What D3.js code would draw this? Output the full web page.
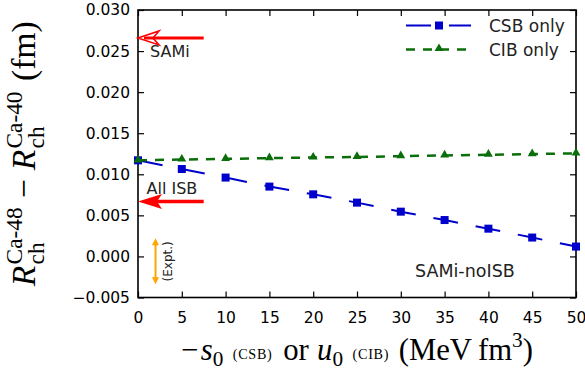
<!DOCTYPE html>
<html><head><meta charset="utf-8">
<script src="https://cdn.jsdelivr.net/npm/d3@7"></script>
<style>body{margin:0;background:#fff}svg{display:block}</style>
</head><body><svg id="c" width="585" height="375"></svg>
<script>
const xVals = [0, 5, 10, 15, 20, 25, 30, 35, 40, 45, 50];
const csbVals = [0.01170, 0.01064, 0.00960, 0.00850, 0.00756, 0.00655, 0.00545, 0.00443, 0.00338, 0.00230, 0.00120];
const cibVals = [0.01170, 0.01180, 0.01188, 0.01196, 0.01204, 0.01211, 0.01220, 0.01230, 0.01238, 0.01246, 0.01255];
const xTicks = [0, 5, 10, 15, 20, 25, 30, 35, 40, 45, 50];
const yTicks = [-0.005, 0.000, 0.005, 0.010, 0.015, 0.020, 0.025, 0.030];
const seriesNames = ["CSB only", "CIB only"];
const samiArrow = {y: 0.0266, x0: 0, x1: 7.5, label: "SAMi"};
const allIsbArrow = {y: 0.0067, x0: 0, x1: 7.5, label: "All ISB"};
const expt = {x: 2, lo: -0.0034, hi: 0.0022, label: "(Expt.)"};
const modelLabel = "SAMi-noISB";

const svg = d3.select("#c");
const L = 138, R = 576, T = 10, B = 297.5;
const x = d3.scaleLinear().domain([0, 50]).range([L, R]);
const y = d3.scaleLinear().domain([-0.005, 0.030]).range([B, T]);
const blue = "#0000cc", green = "#0a6e0a", red = "#ff0000", orange = "#ffa500";
const sans = "'DejaVu Sans', sans-serif", serif = "'Liberation Serif', serif";

// axes
const fmtY = d3.format(".3f");
const gL = svg.append("g").attr("transform", `translate(${L},0)`)
  .call(d3.axisLeft(y).tickValues(yTicks).tickFormat(fmtY).tickSizeInner(-6).tickSizeOuter(0).tickPadding(8));
const gB = svg.append("g").attr("transform", `translate(0,${B})`)
  .call(d3.axisBottom(x).tickValues(xTicks).tickFormat(d3.format("d")).tickSizeInner(-6).tickSizeOuter(0).tickPadding(14));
const gR = svg.append("g").attr("transform", `translate(${R},0)`)
  .call(d3.axisRight(y).tickValues(yTicks).tickFormat("").tickSizeInner(-6).tickSizeOuter(0));
const gT = svg.append("g").attr("transform", `translate(0,${T})`)
  .call(d3.axisTop(x).tickValues(xTicks).tickFormat("").tickSizeInner(-6).tickSizeOuter(0));
[gL, gB, gR, gT].forEach(g => {
  g.select(".domain").remove();
  g.selectAll(".tick line").attr("stroke", "#000").attr("stroke-width", 1.2);
  g.selectAll("text").attr("font-family", sans).attr("font-size", 15.5).attr("fill", "#000");
});
svg.append("rect").attr("x", L).attr("y", T).attr("width", R - L).attr("height", B - T)
  .attr("fill", "none").attr("stroke", "#000").attr("stroke-width", 1.6);

// clip
svg.append("clipPath").attr("id", "clip").append("rect")
  .attr("x", L - 6).attr("y", T - 6).attr("width", R - L + 12).attr("height", B - T + 12);
const plot = svg.append("g");

const line = d3.line().x((d, i) => x(xVals[i])).y(d => y(d));
// CSB
plot.append("path").datum(csbVals).attr("d", line).attr("fill", "none")
  .attr("stroke", blue).attr("stroke-width", 2).attr("stroke-dasharray", "25,18");
plot.selectAll(".sq").data(csbVals).enter().append("rect")
  .attr("x", (d, i) => x(xVals[i]) - 4).attr("y", d => y(d) - 4)
  .attr("width", 8).attr("height", 8).attr("fill", blue);
// CIB
plot.append("path").datum(cibVals).attr("d", line).attr("fill", "none")
  .attr("stroke", green).attr("stroke-width", 2.5).attr("stroke-dasharray", "9,8");
const tri = d3.symbol().type(d3.symbolTriangle).size(34);
plot.selectAll(".tr").data(cibVals).enter().append("path")
  .attr("d", tri).attr("transform", (d, i) => `translate(${x(xVals[i])},${y(d) - 0.5})`).attr("fill", green);

// legend
const lg = svg.append("g");
lg.append("line").attr("x1", 406).attr("x2", 471).attr("y1", 25.5).attr("y2", 25.5)
  .attr("stroke", blue).attr("stroke-width", 2).attr("stroke-dasharray", "25,18");
lg.append("rect").attr("x", 435).attr("y", 21.5).attr("width", 8).attr("height", 8).attr("fill", blue);
lg.append("line").attr("x1", 406).attr("x2", 471).attr("y1", 49.5).attr("y2", 49.5)
  .attr("stroke", green).attr("stroke-width", 2.5).attr("stroke-dasharray", "9,8");
lg.append("path").attr("d", tri).attr("transform", "translate(439,48.5)").attr("fill", green);
lg.selectAll("text").data(seriesNames).enter().append("text")
  .attr("x", 489).attr("y", (d, i) => 31.5 + i * 24).text(d => d)
  .attr("font-family", sans).attr("font-size", 17).attr("fill", "#222");

// red arrows
function redArrow(a, open) {
  const tx = x(a.x0), ty = y(a.y), ex = x(a.x1);
  if (open) {
    svg.append("line").attr("x1", tx + 6).attr("x2", ex).attr("y1", ty).attr("y2", ty)
      .attr("stroke", red).attr("stroke-width", 3);
    svg.append("path").attr("d", `M${tx},${ty} L${tx + 21},${ty - 7} L${tx + 15},${ty} L${tx + 21},${ty + 7} Z`)
      .attr("fill", "#fff").attr("fill-opacity", 0).attr("stroke", red).attr("stroke-width", 1.6).attr("stroke-linejoin", "miter");
  } else {
    svg.append("line").attr("x1", tx + 10).attr("x2", ex).attr("y1", ty).attr("y2", ty)
      .attr("stroke", red).attr("stroke-width", 3.5);
    svg.append("path").attr("d", `M${tx},${ty} L${tx + 24},${ty - 7.5} L${tx + 19},${ty} L${tx + 24},${ty + 7.5} Z`)
      .attr("fill", red);
  }
}
redArrow(samiArrow, true);
redArrow(allIsbArrow, false);
svg.append("text").attr("x", 150).attr("y", 57).text(samiArrow.label)
  .attr("font-family", sans).attr("font-size", 16).attr("fill", "#222");
svg.append("text").attr("x", 146.5).attr("y", 194).text(allIsbArrow.label)
  .attr("font-family", sans).attr("font-size", 16).attr("fill", "#222");
svg.append("text").attr("x", 415).attr("y", 277).text(modelLabel)
  .attr("font-family", sans).attr("font-size", 17.5).attr("fill", "#222");

// expt double arrow
const ex = x(expt.x), eTop = y(expt.hi), eBot = y(expt.lo);
svg.append("line").attr("x1", ex).attr("x2", ex).attr("y1", eTop + 4).attr("y2", eBot - 4)
  .attr("stroke", orange).attr("stroke-width", 2);
svg.append("path").attr("d", `M${ex},${eTop} L${ex - 3.5},${eTop + 7} L${ex + 3.5},${eTop + 7} Z`).attr("fill", orange);
svg.append("path").attr("d", `M${ex},${eBot} L${ex - 3.5},${eBot - 7} L${ex + 3.5},${eBot - 7} Z`).attr("fill", orange);
svg.append("text").attr("transform", `translate(${ex + 16},${(eTop + eBot) / 2}) rotate(-90)`)
  .attr("text-anchor", "middle").text(expt.label)
  .attr("font-family", sans).attr("font-size", 12).attr("fill", "#222");

// math text helper
function mathText(g, pieces) {
  let cx = 0;
  pieces.forEach(p => {
    if (p.gap) { cx += p.gap; return; }
    const items = p.stack ? p.stack : [p];
    let w = 0;
    items.forEach(q => {
      const t = g.append("text").attr("x", cx).attr("y", q.dy || 0).text(q.t)
        .attr("font-family", serif).attr("font-size", q.size)
        .attr("font-style", q.it ? "italic" : "normal")
        .attr("letter-spacing", q.ls || 0).attr("fill", "#000");
      w = Math.max(w, t.node().getComputedTextLength());
    });
    cx += w + (p.after || 0);
  });
  return cx;
}
// x label
const xl = svg.append("g");
const xlIn = xl.append("g");
const W1 = mathText(xlIn, [
  {t: "−", size: 26}, {gap: 2}, {t: "s", size: 26, it: true}, {t: "0", size: 18, dy: 5},
  {gap: 8}, {t: "(CSB)", size: 12, dy: -1, ls: 0.6}, {gap: 9}, {t: "or", size: 26}, {gap: 7},
  {t: "u", size: 26, it: true}, {t: "0", size: 18, dy: 5}, {gap: 8},
  {t: "(CIB)", size: 12, dy: -1, ls: 0.6}, {gap: 8}, {t: "(MeV", size: 26}, {gap: 5},
  {t: "fm", size: 26}, {t: "3", size: 18, dy: -11}, {t: ")", size: 26}
]);
const sx = 352 / W1;
xl.attr("transform", `translate(${(L + R) / 2},360) scale(${sx}) translate(${-W1 / 2},0)`);

// y label
const yl = svg.append("g");
const ylIn = yl.append("g");
const W2 = mathText(ylIn, [
  {t: "R", size: 26, it: true}, {gap: 1},
  {stack: [{t: "Ca-48", size: 18, dy: -10}, {t: "ch", size: 18, dy: 7}]},
  {gap: 7}, {t: "−", size: 26}, {gap: 7},
  {t: "R", size: 26, it: true}, {gap: 1},
  {stack: [{t: "Ca-40", size: 18, dy: -10}, {t: "ch", size: 18, dy: 7}]},
  {gap: 8}, {t: "(fm)", size: 26}
]);
const sy = 265 / W2;
yl.attr("transform", `translate(35,${(T + B) / 2}) rotate(-90) scale(${sy}) translate(${-W2 / 2},0)`);
</script></body></html>
